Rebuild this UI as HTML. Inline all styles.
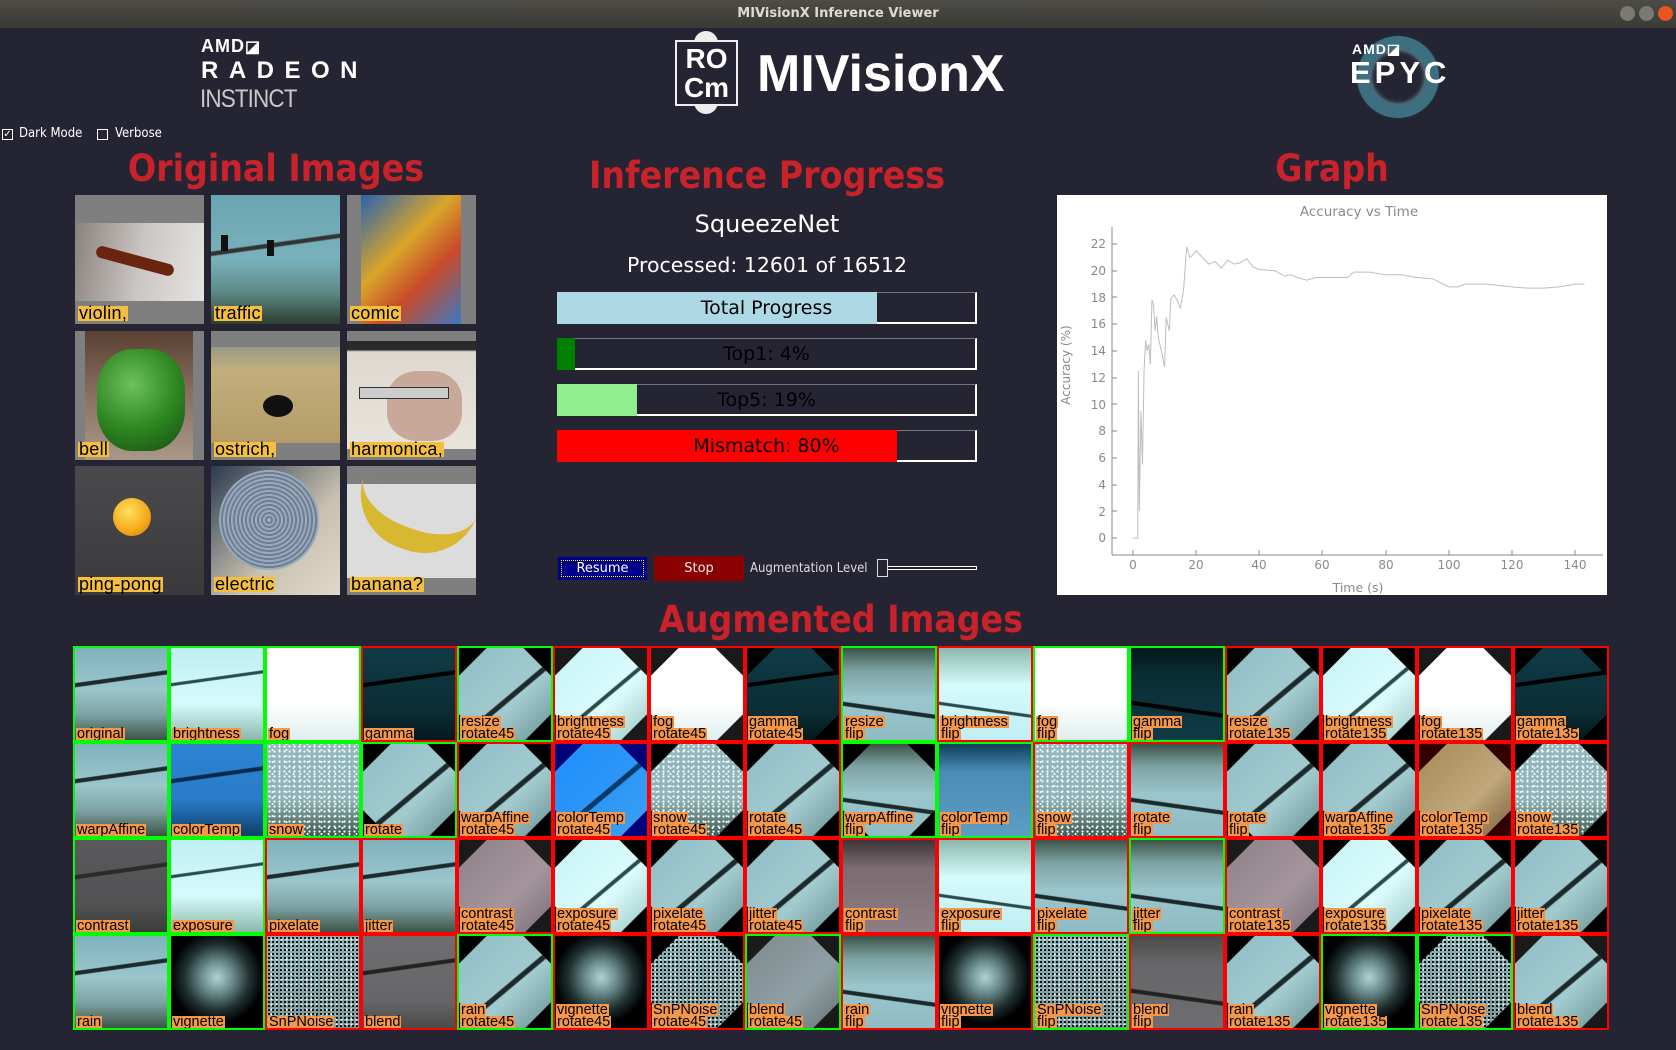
<!DOCTYPE html>
<html><head><meta charset="utf-8">
<style>
*{margin:0;padding:0;box-sizing:border-box}
body{width:1676px;height:1050px;background:#252432;position:relative;overflow:hidden;font-family:"DejaVu Sans","Liberation Sans",sans-serif;color:#fff}
.abs{position:absolute}
.tb{left:0;top:0;width:1676px;height:28px;background:linear-gradient(#4d4c47,#3a3935);text-align:center;font:bold 13px/28px "DejaVu Sans",sans-serif;color:#dfdbd2}
.wb{top:6px;width:15px;height:15px;border-radius:50%;background:#7a7974}
.ttl{font-family:"DejaVu Sans",sans-serif;font-weight:bold;font-stretch:condensed;color:#c9222b;font-size:37px;text-align:center;line-height:44px}
.bar{left:557px;width:420px;height:32px;border-top:1px solid #777;border-left:1px solid #777;border-right:2px solid #fff;border-bottom:2px solid #fff;background:#252432}
.bar .f{position:absolute;left:-1px;top:-1px;bottom:-2px}
.bar span{position:absolute;left:0;right:0;top:0;text-align:center;font-size:19px;line-height:31px;color:#000}
.orig{width:129px;height:129px;overflow:hidden;background:#7f7f7f}
.orig b{position:absolute;left:3px;bottom:3px;background:#f3bf3c;color:#000;font:18px/15px "Liberation Sans",sans-serif;padding:0 1px;letter-spacing:0.3px}
#grid{left:73px;top:646px;width:1536px;height:384px;display:grid;grid-template-columns:repeat(16,96px);grid-template-rows:repeat(4,96px)}
.c{position:relative;width:96px;height:96px;border:2px solid #f00;background:#000;overflow:hidden}
.c.G{border-color:#0f0}
.c i{position:absolute;inset:0;display:block}
.c.r i{clip-path:polygon(30% 0,70% 0,100% 30%,100% 72%,72% 100%,28% 100%,0 72%,0 30%)}
.c.r.k{background:#1a1a1a}
.c b{position:absolute;left:1px;bottom:0;font:14.5px/11px "Liberation Sans",sans-serif;color:#000;font-weight:normal}
.c b u{display:block;width:fit-content;background:#f3974a;text-decoration:none;padding:0 1px;height:12px;line-height:12px}
.n{background:linear-gradient(172deg,transparent 33%,#1d2a2c 34%,#1d2a2c 37%,transparent 38%),linear-gradient(#7fb2bc,#9ac6cd 45%,#7fa3a4 72%,#3c5448)}
.nf{background:linear-gradient(188deg,transparent 63%,#1d2a2c 64%,#1d2a2c 67%,transparent 68%),linear-gradient(#3c5448,#7fa3a4 25%,#9ac6cd 55%,#8fbcc4)}
.nr{background:linear-gradient(140deg,transparent 52%,#1d2a2c 53%,#1d2a2c 56%,transparent 57%),linear-gradient(135deg,#8fbec6,#a2cbd0 60%,#6c9294)}
.br{background:linear-gradient(172deg,transparent 33%,#2a4a4c 34%,#2a4a4c 36%,transparent 37%),linear-gradient(#bfeef2,#d6fbfb 60%,#8cb8ac)}
.brr{background:linear-gradient(140deg,transparent 52%,#2a4a4c 53%,#2a4a4c 55%,transparent 56%),linear-gradient(135deg,#c6f3f6,#dcfcfc 60%,#9cc7c2)}
.fg{background:linear-gradient(#fff,#fff 60%,#dfeeee)}
.gm{background:linear-gradient(172deg,transparent 33%,#000 34%,#000 37%,transparent 38%),linear-gradient(#0f3b46,#0b2d35 70%,#03181a)}
.ctb{background:linear-gradient(172deg,transparent 33%,#0a2a4c 34%,#0a2a4c 37%,transparent 38%),linear-gradient(#2c84d4,#2a7cc6 60%,#0e3f6a)}
.ctr{background:linear-gradient(140deg,transparent 52%,#0a3a6c 53%,#0a3a6c 56%,transparent 57%),linear-gradient(135deg,#1d8cff,#3aa0f0)}
.ctf{background:linear-gradient(#0e3f5a,#4b8cb6 30%,#5c9dc4)}
.cto{background:linear-gradient(135deg,#a38a5a,#c0a87a 60%,#7a6040)}
.sn{background:radial-gradient(circle,#fff 0.9px,transparent 1.3px) 0 0/5px 5px,radial-gradient(circle,#e8ffff 0.8px,transparent 1.2px) 2px 3px/7px 6px,linear-gradient(#92b8bd,#8fb3b6 60%,#3e5a50)}
.co{background:linear-gradient(172deg,transparent 33%,#2a2a2a 34%,#2a2a2a 37%,transparent 38%),linear-gradient(#5a5a5d,#525254 70%,#3a3d38)}
.cor{background:linear-gradient(135deg,#8e8188,#a4959c 60%,#7a7078)}
.cof{background:linear-gradient(#3c3436,#7a6c70 30%,#8c7e84)}
.vg{background:radial-gradient(circle at 50% 45%,#b4d2d2 0,#6f9090 22%,#203030 48%,#000 68%)}
.sp{background:radial-gradient(circle,#000 0.9px,transparent 1.2px) 0 0/4px 4px,radial-gradient(circle,#fff 0.9px,transparent 1.2px) 2px 1px/5px 5px,linear-gradient(#8ab0b4,#7a9a9a)}
.bl{background:linear-gradient(172deg,transparent 33%,#222 34%,#222 37%,transparent 38%),linear-gradient(#6e6d70,#666568 70%,#4a4c48)}
.blr{background:linear-gradient(135deg,#7e8a8e,#8fa0a4 60%,#6a7476)}
.chk{width:11px;height:11px;border:1px solid #fff;background:#252432;top:129px}
</style></head><body>

<div class="abs tb">MIVisionX Inference Viewer</div>
<div class="abs wb" style="left:1620px"></div>
<div class="abs wb" style="left:1639px"></div>
<div class="abs wb" style="left:1658px;background:#e9541f"></div>

<!-- AMD Radeon Instinct -->
<div class="abs" style="left:201px;top:36px;font:bold 18px/20px 'Liberation Sans',sans-serif;letter-spacing:1px">AMD<span style="font-size:16px">◪</span></div>
<div class="abs" style="left:201px;top:58px;font:bold 24px/26px 'Liberation Sans',sans-serif;letter-spacing:10.5px">RADEON</div>
<div class="abs" style="left:200px;top:86px;font:25px/26px 'Liberation Sans Narrow','Liberation Sans',sans-serif;color:#c8c8c8;letter-spacing:-1px;transform:scaleX(0.9);transform-origin:left">INSTINCT</div>

<!-- ROCm -->
<div class="abs" style="left:694px;top:31px;width:24px;height:20px;border-radius:12px 12px 0 0;background:#eee"></div>
<div class="abs" style="left:694px;top:100px;width:24px;height:14px;border-radius:0 0 12px 12px;background:#eee;color:#333;font:7px/10px sans-serif;text-align:center">ON</div>
<div class="abs" style="left:675px;top:40px;width:63px;height:66px;border:2px solid #eee;background:#252432;text-align:center;font:bold 28px/29px 'Liberation Sans',sans-serif;padding-top:2px">RO<br>Cm</div>
<div class="abs" style="left:757px;top:45px;font:bold 52px/58px 'Liberation Sans',sans-serif">MIVisionX</div>

<!-- EPYC -->
<div class="abs" style="left:1357px;top:36px;width:82px;height:82px;border-radius:50%;border:13px solid #3d6f80;box-shadow:inset 0 0 6px #8ec4d4,0 0 4px #1b3b48"></div>
<div class="abs" style="left:1352px;top:41px;font:bold 14px/16px 'Liberation Sans',sans-serif;letter-spacing:1px">AMD◪</div>
<div class="abs" style="left:1350px;top:57px;font:bold 31px/32px 'Liberation Sans',sans-serif;letter-spacing:4px">EPYC</div>

<!-- checkboxes -->
<div class="abs chk" style="left:2px;font:10px/9px sans-serif;text-align:center">✓</div>
<div class="abs" style="left:19px;top:126px;font:13px/16px 'DejaVu Sans',sans-serif;font-stretch:condensed">Dark Mode</div>
<div class="abs chk" style="left:97px"></div>
<div class="abs" style="left:115px;top:126px;font:13px/16px 'DejaVu Sans',sans-serif;font-stretch:condensed">Verbose</div>

<!-- titles -->
<div class="abs ttl" style="left:76px;top:147px;width:400px">Original Images</div>
<div class="abs ttl" style="left:567px;top:154px;width:400px">Inference Progress</div>
<div class="abs ttl" style="left:1132px;top:147px;width:400px">Graph</div>
<div class="abs ttl" style="left:641px;top:598px;width:400px">Augmented Images</div>

<!-- original images -->
<div class="abs orig" style="left:75px;top:195px"><div class="abs" style="left:0;top:28px;width:129px;height:78px;background:linear-gradient(100deg,#8a817c,#c9c5c2 50%,#e6e4e2)"></div><div class="abs" style="left:20px;top:60px;width:80px;height:12px;background:#6a2410;transform:rotate(15deg);border-radius:6px"></div><b>violin,</b></div>
<div class="abs orig" style="left:211px;top:195px;background:linear-gradient(172deg,transparent 38%,#333 39%,#333 41%,transparent 42%),linear-gradient(#6aa4b0,#79b2bc 50%,#5e8a86 75%,#2e3e30)"><div class="abs" style="left:10px;top:40px;width:7px;height:16px;background:#111"></div><div class="abs" style="left:56px;top:45px;width:7px;height:16px;background:#111"></div><b>traffic</b></div>
<div class="abs orig" style="left:347px;top:195px"><div class="abs" style="left:14px;top:0;width:100px;height:129px;background:linear-gradient(135deg,#2a62b0,#d8a52a 40%,#c94a2a 65%,#3a79c2)"></div><b>comic</b></div>
<div class="abs orig" style="left:75px;top:331px"><div class="abs" style="left:10px;top:0;width:108px;height:129px;background:linear-gradient(#5a4030,#8a7060 50%,#a89888)"></div><div class="abs" style="left:22px;top:18px;width:88px;height:102px;border-radius:40%;background:radial-gradient(circle at 40% 35%,#6fc060,#2f8a22 50%,#174a10)"></div><b>bell</b></div>
<div class="abs orig" style="left:211px;top:331px"><div class="abs" style="left:0;top:16px;width:129px;height:96px;background:linear-gradient(#9a9a88,#c2ae7c 25%,#b49c68)"></div><div class="abs" style="left:52px;top:64px;width:30px;height:22px;border-radius:50%;background:#111"></div><b>ostrich,</b></div>
<div class="abs orig" style="left:347px;top:331px"><div class="abs" style="left:0;top:10px;width:129px;height:108px;background:linear-gradient(#2a2a2a 0,#2a2a2a 8%,#ddd8d0 10%,#e8e4dc)"></div><div class="abs" style="left:40px;top:40px;width:75px;height:70px;border-radius:40%;background:#c8a898"></div><div class="abs" style="left:12px;top:56px;width:90px;height:12px;background:#ccc;border:1px solid #333"></div><b>harmonica,</b></div>
<div class="abs orig" style="left:75px;top:466px;background:linear-gradient(#4a4a4c,#3a3a3c)"><div class="abs" style="left:38px;top:32px;width:38px;height:38px;border-radius:50%;background:radial-gradient(circle at 40% 35%,#ffe060,#f3a818 60%,#d07a08)"></div><b>ping-pong</b></div>
<div class="abs orig" style="left:211px;top:466px;background:linear-gradient(135deg,#2a3a50,#c8c0b0 60%,#e0d8c8)"><div class="abs" style="left:8px;top:4px;width:100px;height:100px;border-radius:50%;background:repeating-radial-gradient(circle,#9aaabb 0 2px,#6d7f94 2px 4px)"></div><b>electric</b></div>
<div class="abs orig" style="left:347px;top:466px"><div class="abs" style="left:0;top:18px;width:129px;height:94px;background:#dcdcdc"></div><div class="abs" style="left:4px;top:28px;width:120px;height:56px;border-radius:0 0 60px 60px;border-bottom:22px solid #d8b830;transform:rotate(20deg)"></div><b>banana?</b></div>

<!-- progress -->
<div class="abs" style="left:567px;top:208px;width:400px;text-align:center;font-size:24px;line-height:32px">SqueezeNet</div>
<div class="abs" style="left:517px;top:251px;width:500px;text-align:center;font-size:20.5px;line-height:28px">Processed: 12601 of 16512</div>
<div class="abs bar" style="top:292px"><div class="f" style="width:320px;background:#add8e6"></div><span>Total Progress</span></div>
<div class="abs bar" style="top:338px"><div class="f" style="width:18px;background:#008000"></div><span>Top1: 4%</span></div>
<div class="abs bar" style="top:384px"><div class="f" style="width:80px;background:#90ee90"></div><span>Top5: 19%</span></div>
<div class="abs bar" style="top:430px"><div class="f" style="width:340px;background:#f00"></div><span>Mismatch: 80%</span></div>

<div class="abs" style="left:557px;top:556px;width:91px;height:25px;background:#00008b;border:1px solid #223;padding:3px"><div style="border:1px dotted #ff0;height:17px;text-align:center;font-size:13px;line-height:16px">Resume</div></div>
<div class="abs" style="left:654px;top:556px;width:90px;height:25px;background:#8b0000;text-align:center;font-size:13px;line-height:25px;color:#eee">Stop</div>
<div class="abs" style="left:750px;top:560px;font-size:13px;line-height:18px;color:#ddd;font-stretch:condensed;white-space:nowrap">Augmentation Level</div>
<div class="abs" style="left:884px;top:566px;width:93px;height:4px;border:1px solid #fff;background:#252432"></div>
<div class="abs" style="left:877px;top:559px;width:11px;height:18px;border:1px solid #ddd;background:#252432"></div>

<!-- graph -->
<svg class="abs" style="left:1057px;top:195px" width="550" height="400" viewBox="0 0 550 400" font-family="DejaVu Sans, sans-serif">
<rect width="550" height="400" fill="#fff"/>
<text x="302" y="21" text-anchor="middle" font-size="13.5" fill="#8a8a8a">Accuracy vs Time</text>
<line x1="55" y1="32" x2="55" y2="360" stroke="#8a8a8a"/>
<line x1="55" y1="360" x2="546" y2="360" stroke="#8a8a8a"/>
<g font-size="12" fill="#8a8a8a" text-anchor="end">
<text x="49" y="347">0</text><text x="49" y="321">2</text><text x="49" y="294">4</text><text x="49" y="267">6</text><text x="49" y="240">8</text><text x="49" y="214">10</text><text x="49" y="187">12</text><text x="49" y="160">14</text><text x="49" y="133">16</text><text x="49" y="107">18</text><text x="49" y="80">20</text><text x="49" y="53">22</text>
</g>
<g stroke="#8a8a8a"><line x1="55" x2="60" y1="343" y2="343"/><line x1="55" x2="60" y1="316" y2="316"/><line x1="55" x2="60" y1="290" y2="290"/><line x1="55" x2="60" y1="263" y2="263"/><line x1="55" x2="60" y1="236" y2="236"/><line x1="55" x2="60" y1="209" y2="209"/><line x1="55" x2="60" y1="183" y2="183"/><line x1="55" x2="60" y1="156" y2="156"/><line x1="55" x2="60" y1="129" y2="129"/><line x1="55" x2="60" y1="102" y2="102"/><line x1="55" x2="60" y1="76" y2="76"/><line x1="55" x2="60" y1="49" y2="49"/>
<line x1="76" x2="76" y1="355" y2="360"/><line x1="139" x2="139" y1="355" y2="360"/><line x1="202" x2="202" y1="355" y2="360"/><line x1="265" x2="265" y1="355" y2="360"/><line x1="329" x2="329" y1="355" y2="360"/><line x1="392" x2="392" y1="355" y2="360"/><line x1="455" x2="455" y1="355" y2="360"/><line x1="518" x2="518" y1="355" y2="360"/></g>
<g font-size="12" fill="#8a8a8a" text-anchor="middle">
<text x="76" y="374">0</text><text x="139" y="374">20</text><text x="202" y="374">40</text><text x="265" y="374">60</text><text x="329" y="374">80</text><text x="392" y="374">100</text><text x="455" y="374">120</text><text x="518" y="374">140</text>
<text x="301" y="397" font-size="12.5">Time (s)</text>
<text x="0" y="0" font-size="12" transform="translate(13,170) rotate(-90)">Accuracy (%)</text>
</g>
<polyline transform="translate(76,343) scale(3.157,-13.36)" vector-effect="non-scaling-stroke" fill="none" stroke="#bdbdbd" stroke-width="1" points="0,0 1.5,0 1.7,12.5 2,2 2.5,9.5 3,5.5 3.5,12.5 4,14.8 4.5,14 5,14.5 5.5,13 6,17.8 6.5,17.5 7,15.5 7.5,16.6 8,15 9,14 10,12.8 10.5,16.5 11.5,15.5 12,17.9 13,18.2 14,17.8 15,17.2 16,18.5 17,21.8 18,21 19,21.2 20,21.5 22,21 24,20.5 26,20.7 28,20.2 30,20.8 32,20.5 34,20.6 36,20.9 38,20.3 40,20.1 45,20 48,19.6 50,19.7 52,19.5 55,19.3 58,19.5 62,19.5 68,19.5 70,19.9 75,19.9 80,19.7 85,19.7 90,19.5 95,19.4 100,18.8 103,18.8 105,19 112,19 120,18.8 125,18.7 130,18.7 135,18.8 140,19.0 143,19.0"/>
</svg>

<!-- augmented grid -->
<div class="abs" id="grid">
<div class="c G"><i class="n"></i><b><u>original</u></b></div>
<div class="c G"><i class="br"></i><b><u>brightness</u></b></div>
<div class="c G"><i class="fg"></i><b><u>fog</u></b></div>
<div class="c"><i class="gm"></i><b><u>gamma</u></b></div>
<div class="c G r"><i class="nr"></i><b><u>resize</u><u>rotate45</u></b></div>
<div class="c r k"><i class="brr"></i><b><u>brightness</u><u>rotate45</u></b></div>
<div class="c r k"><i class="fg"></i><b><u>fog</u><u>rotate45</u></b></div>
<div class="c r"><i class="gm"></i><b><u>gamma</u><u>rotate45</u></b></div>
<div class="c G"><i class="nf"></i><b><u>resize</u><u>flip</u></b></div>
<div class="c"><i class="br" style="transform:scaleY(-1)"></i><b><u>brightness</u><u>flip</u></b></div>
<div class="c G"><i class="fg"></i><b><u>fog</u><u>flip</u></b></div>
<div class="c G"><i class="gm" style="transform:scaleY(-1)"></i><b><u>gamma</u><u>flip</u></b></div>
<div class="c r"><i class="nr"></i><b><u>resize</u><u>rotate135</u></b></div>
<div class="c r"><i class="brr"></i><b><u>brightness</u><u>rotate135</u></b></div>
<div class="c r k"><i class="fg"></i><b><u>fog</u><u>rotate135</u></b></div>
<div class="c r"><i class="gm"></i><b><u>gamma</u><u>rotate135</u></b></div>

<div class="c G"><i class="n"></i><b><u>warpAffine</u></b></div>
<div class="c G"><i class="ctb"></i><b><u>colorTemp</u></b></div>
<div class="c G"><i class="sn"></i><b><u>snow</u></b></div>
<div class="c G r"><i class="nr"></i><b><u>rotate</u></b></div>
<div class="c r"><i class="nr"></i><b><u>warpAffine</u><u>rotate45</u></b></div>
<div class="c r" style="background:#00007a"><i class="ctr"></i><b><u>colorTemp</u><u>rotate45</u></b></div>
<div class="c r"><i class="sn"></i><b><u>snow</u><u>rotate45</u></b></div>
<div class="c r"><i class="nr"></i><b><u>rotate</u><u>rotate45</u></b></div>
<div class="c G r"><i class="nf"></i><b><u>warpAffine</u><u>flip</u></b></div>
<div class="c G"><i class="ctf"></i><b><u>colorTemp</u><u>flip</u></b></div>
<div class="c"><i class="sn"></i><b><u>snow</u><u>flip</u></b></div>
<div class="c"><i class="nf"></i><b><u>rotate</u><u>flip</u></b></div>
<div class="c r"><i class="nr"></i><b><u>rotate</u><u>flip</u></b></div>
<div class="c r"><i class="nr"></i><b><u>warpAffine</u><u>rotate135</u></b></div>
<div class="c r" style="background:#300"><i class="cto"></i><b><u>colorTemp</u><u>rotate135</u></b></div>
<div class="c r"><i class="sn"></i><b><u>snow</u><u>rotate135</u></b></div>

<div class="c G"><i class="co"></i><b><u>contrast</u></b></div>
<div class="c G"><i class="br"></i><b><u>exposure</u></b></div>
<div class="c"><i class="n"></i><b><u>pixelate</u></b></div>
<div class="c"><i class="n"></i><b><u>jitter</u></b></div>
<div class="c r k"><i class="cor"></i><b><u>contrast</u><u>rotate45</u></b></div>
<div class="c r"><i class="brr"></i><b><u>exposure</u><u>rotate45</u></b></div>
<div class="c r"><i class="nr"></i><b><u>pixelate</u><u>rotate45</u></b></div>
<div class="c r"><i class="nr"></i><b><u>jitter</u><u>rotate45</u></b></div>
<div class="c"><i class="cof"></i><b><u>contrast</u><u>flip</u></b></div>
<div class="c"><i class="br" style="transform:scaleY(-1)"></i><b><u>exposure</u><u>flip</u></b></div>
<div class="c"><i class="nf"></i><b><u>pixelate</u><u>flip</u></b></div>
<div class="c G"><i class="nf"></i><b><u>jitter</u><u>flip</u></b></div>
<div class="c r k"><i class="cor"></i><b><u>contrast</u><u>rotate135</u></b></div>
<div class="c r"><i class="brr"></i><b><u>exposure</u><u>rotate135</u></b></div>
<div class="c r"><i class="nr"></i><b><u>pixelate</u><u>rotate135</u></b></div>
<div class="c r"><i class="nr"></i><b><u>jitter</u><u>rotate135</u></b></div>

<div class="c G"><i class="n"></i><b><u>rain</u></b></div>
<div class="c G"><i class="vg"></i><b><u>vignette</u></b></div>
<div class="c"><i class="sp"></i><b><u>SnPNoise</u></b></div>
<div class="c"><i class="bl"></i><b><u>blend</u></b></div>
<div class="c G r"><i class="nr"></i><b><u>rain</u><u>rotate45</u></b></div>
<div class="c"><i class="vg"></i><b><u>vignette</u><u>rotate45</u></b></div>
<div class="c r"><i class="sp"></i><b><u>SnPNoise</u><u>rotate45</u></b></div>
<div class="c G r k"><i class="blr"></i><b><u>blend</u><u>rotate45</u></b></div>
<div class="c"><i class="nf"></i><b><u>rain</u><u>flip</u></b></div>
<div class="c"><i class="vg"></i><b><u>vignette</u><u>flip</u></b></div>
<div class="c G"><i class="sp"></i><b><u>SnPNoise</u><u>flip</u></b></div>
<div class="c"><i class="bl" style="transform:scaleY(-1)"></i><b><u>blend</u><u>flip</u></b></div>
<div class="c r"><i class="nr"></i><b><u>rain</u><u>rotate135</u></b></div>
<div class="c G"><i class="vg"></i><b><u>vignette</u><u>rotate135</u></b></div>
<div class="c G r"><i class="sp"></i><b><u>SnPNoise</u><u>rotate135</u></b></div>
<div class="c r k"><i class="nr"></i><b><u>blend</u><u>rotate135</u></b></div>
</div>
</body></html>
